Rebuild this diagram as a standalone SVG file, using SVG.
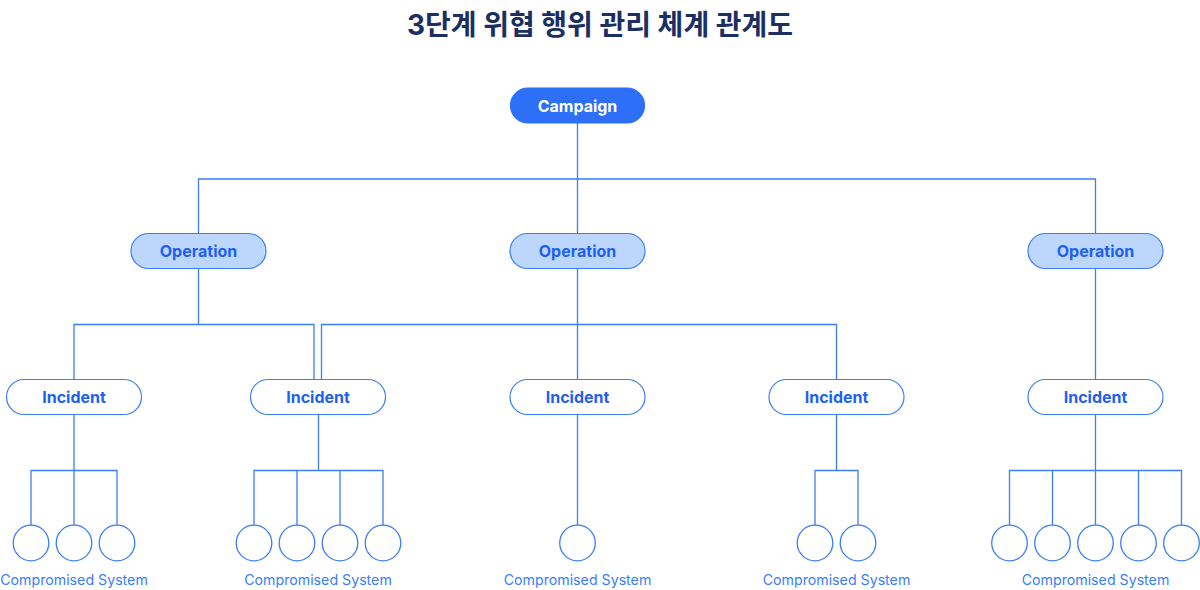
<svg xmlns="http://www.w3.org/2000/svg" width="1200" height="590" viewBox="0 0 1200 590">
<style>
.title{font-family:Inter,"Noto Sans CJK KR",sans-serif;font-weight:700;font-size:28px;fill:#1b2f63;text-anchor:middle}
.lbl{font-family:Inter,"Noto Sans CJK KR",sans-serif;font-weight:700;font-size:16px;text-anchor:middle;dominant-baseline:central}
.camp rect{fill:#2d6ff6;stroke:#2d6ff6;stroke-width:1.2}
.camp text{fill:#ffffff}
.op rect{fill:#bdd7fc;stroke:#3b7ef5;stroke-width:1.2}
.op text{fill:#1f5ff0}
.inc rect{fill:#ffffff;stroke:#3b7ef5;stroke-width:1.2}
.inc text{fill:#1f5ff0}
.sys circle{fill:#ffffff;stroke:#3b7ef5;stroke-width:1.3}
.sys text{font-family:Inter,"Noto Sans",sans-serif;font-size:14.2px;fill:#3b7ef5;text-anchor:middle}
.conn path{fill:none;stroke:#3b7ef5;stroke-width:1.3}
</style>
<text class="title" x="600" y="35">3단계 위협 행위 관리 체계 관계도</text>
<g class="conn" id="connectors">
<path d="M577.5 123V179M198.5 233.5V179H1095.5V233.5M577.5 179V233.5"/>
<path d="M198.5 268.5V324.5H74V379.5M198.5 324.5H314V379.5"/>
<path d="M577.5 268.5V379.5M577.5 324.5H321.5V379.5M577.5 324.5H836.5V379.5"/>
<path d="M1095.5 268.5V379.5"/>
<path d="M74 414.5V525M74 470.5H31V525M74 470.5H117V525"/>
<path d="M318.5 414.5V470.5M254 525V470.5H383V525M297 470.5V525M340 470.5V525"/>
<path d="M577.5 414.5V525"/>
<path d="M836.5 414.5V470.5M815 525V470.5H858V525"/>
<path d="M1095.5 414.5V525M1009.5 525V470.5H1181.5V525M1052.5 470.5V525M1138.5 470.5V525"/>
</g>
<g id="campaign" class="camp"><rect x="510.5" y="88" width="134" height="35" rx="17.5"/><text class="lbl" x="577.5" y="105.5">Campaign</text></g>
<g id="operation1" class="op"><rect x="131" y="233.5" width="135" height="35" rx="17.5"/><text class="lbl" x="198.5" y="251">Operation</text></g>
<g id="operation2" class="op"><rect x="510" y="233.5" width="135" height="35" rx="17.5"/><text class="lbl" x="577.5" y="251">Operation</text></g>
<g id="operation3" class="op"><rect x="1028" y="233.5" width="135" height="35" rx="17.5"/><text class="lbl" x="1095.5" y="251">Operation</text></g>
<g id="incident1" class="inc"><rect x="6.5" y="379.5" width="135" height="35" rx="17.5"/><text class="lbl" x="74" y="397">Incident</text></g>
<g id="incident2" class="inc"><rect x="250.5" y="379.5" width="135" height="35" rx="17.5"/><text class="lbl" x="318" y="397">Incident</text></g>
<g id="incident3" class="inc"><rect x="510" y="379.5" width="135" height="35" rx="17.5"/><text class="lbl" x="577.5" y="397">Incident</text></g>
<g id="incident4" class="inc"><rect x="769" y="379.5" width="135" height="35" rx="17.5"/><text class="lbl" x="836.5" y="397">Incident</text></g>
<g id="incident5" class="inc"><rect x="1028" y="379.5" width="135" height="35" rx="17.5"/><text class="lbl" x="1095.5" y="397">Incident</text></g>
<g id="systems1" class="sys"><circle cx="31" cy="543" r="17.8"/><circle cx="74" cy="543" r="17.8"/><circle cx="117" cy="543" r="17.8"/><text x="74" y="585">Compromised System</text></g>
<g id="systems2" class="sys"><circle cx="254" cy="543" r="17.8"/><circle cx="297" cy="543" r="17.8"/><circle cx="340" cy="543" r="17.8"/><circle cx="383" cy="543" r="17.8"/><text x="318" y="585">Compromised System</text></g>
<g id="systems3" class="sys"><circle cx="577.5" cy="543" r="17.8"/><text x="577.5" y="585">Compromised System</text></g>
<g id="systems4" class="sys"><circle cx="815" cy="543" r="17.8"/><circle cx="858" cy="543" r="17.8"/><text x="836.5" y="585">Compromised System</text></g>
<g id="systems5" class="sys"><circle cx="1009.5" cy="543" r="17.8"/><circle cx="1052.5" cy="543" r="17.8"/><circle cx="1095.5" cy="543" r="17.8"/><circle cx="1138.5" cy="543" r="17.8"/><circle cx="1181.5" cy="543" r="17.8"/><text x="1095.5" y="585">Compromised System</text></g>
</svg>
